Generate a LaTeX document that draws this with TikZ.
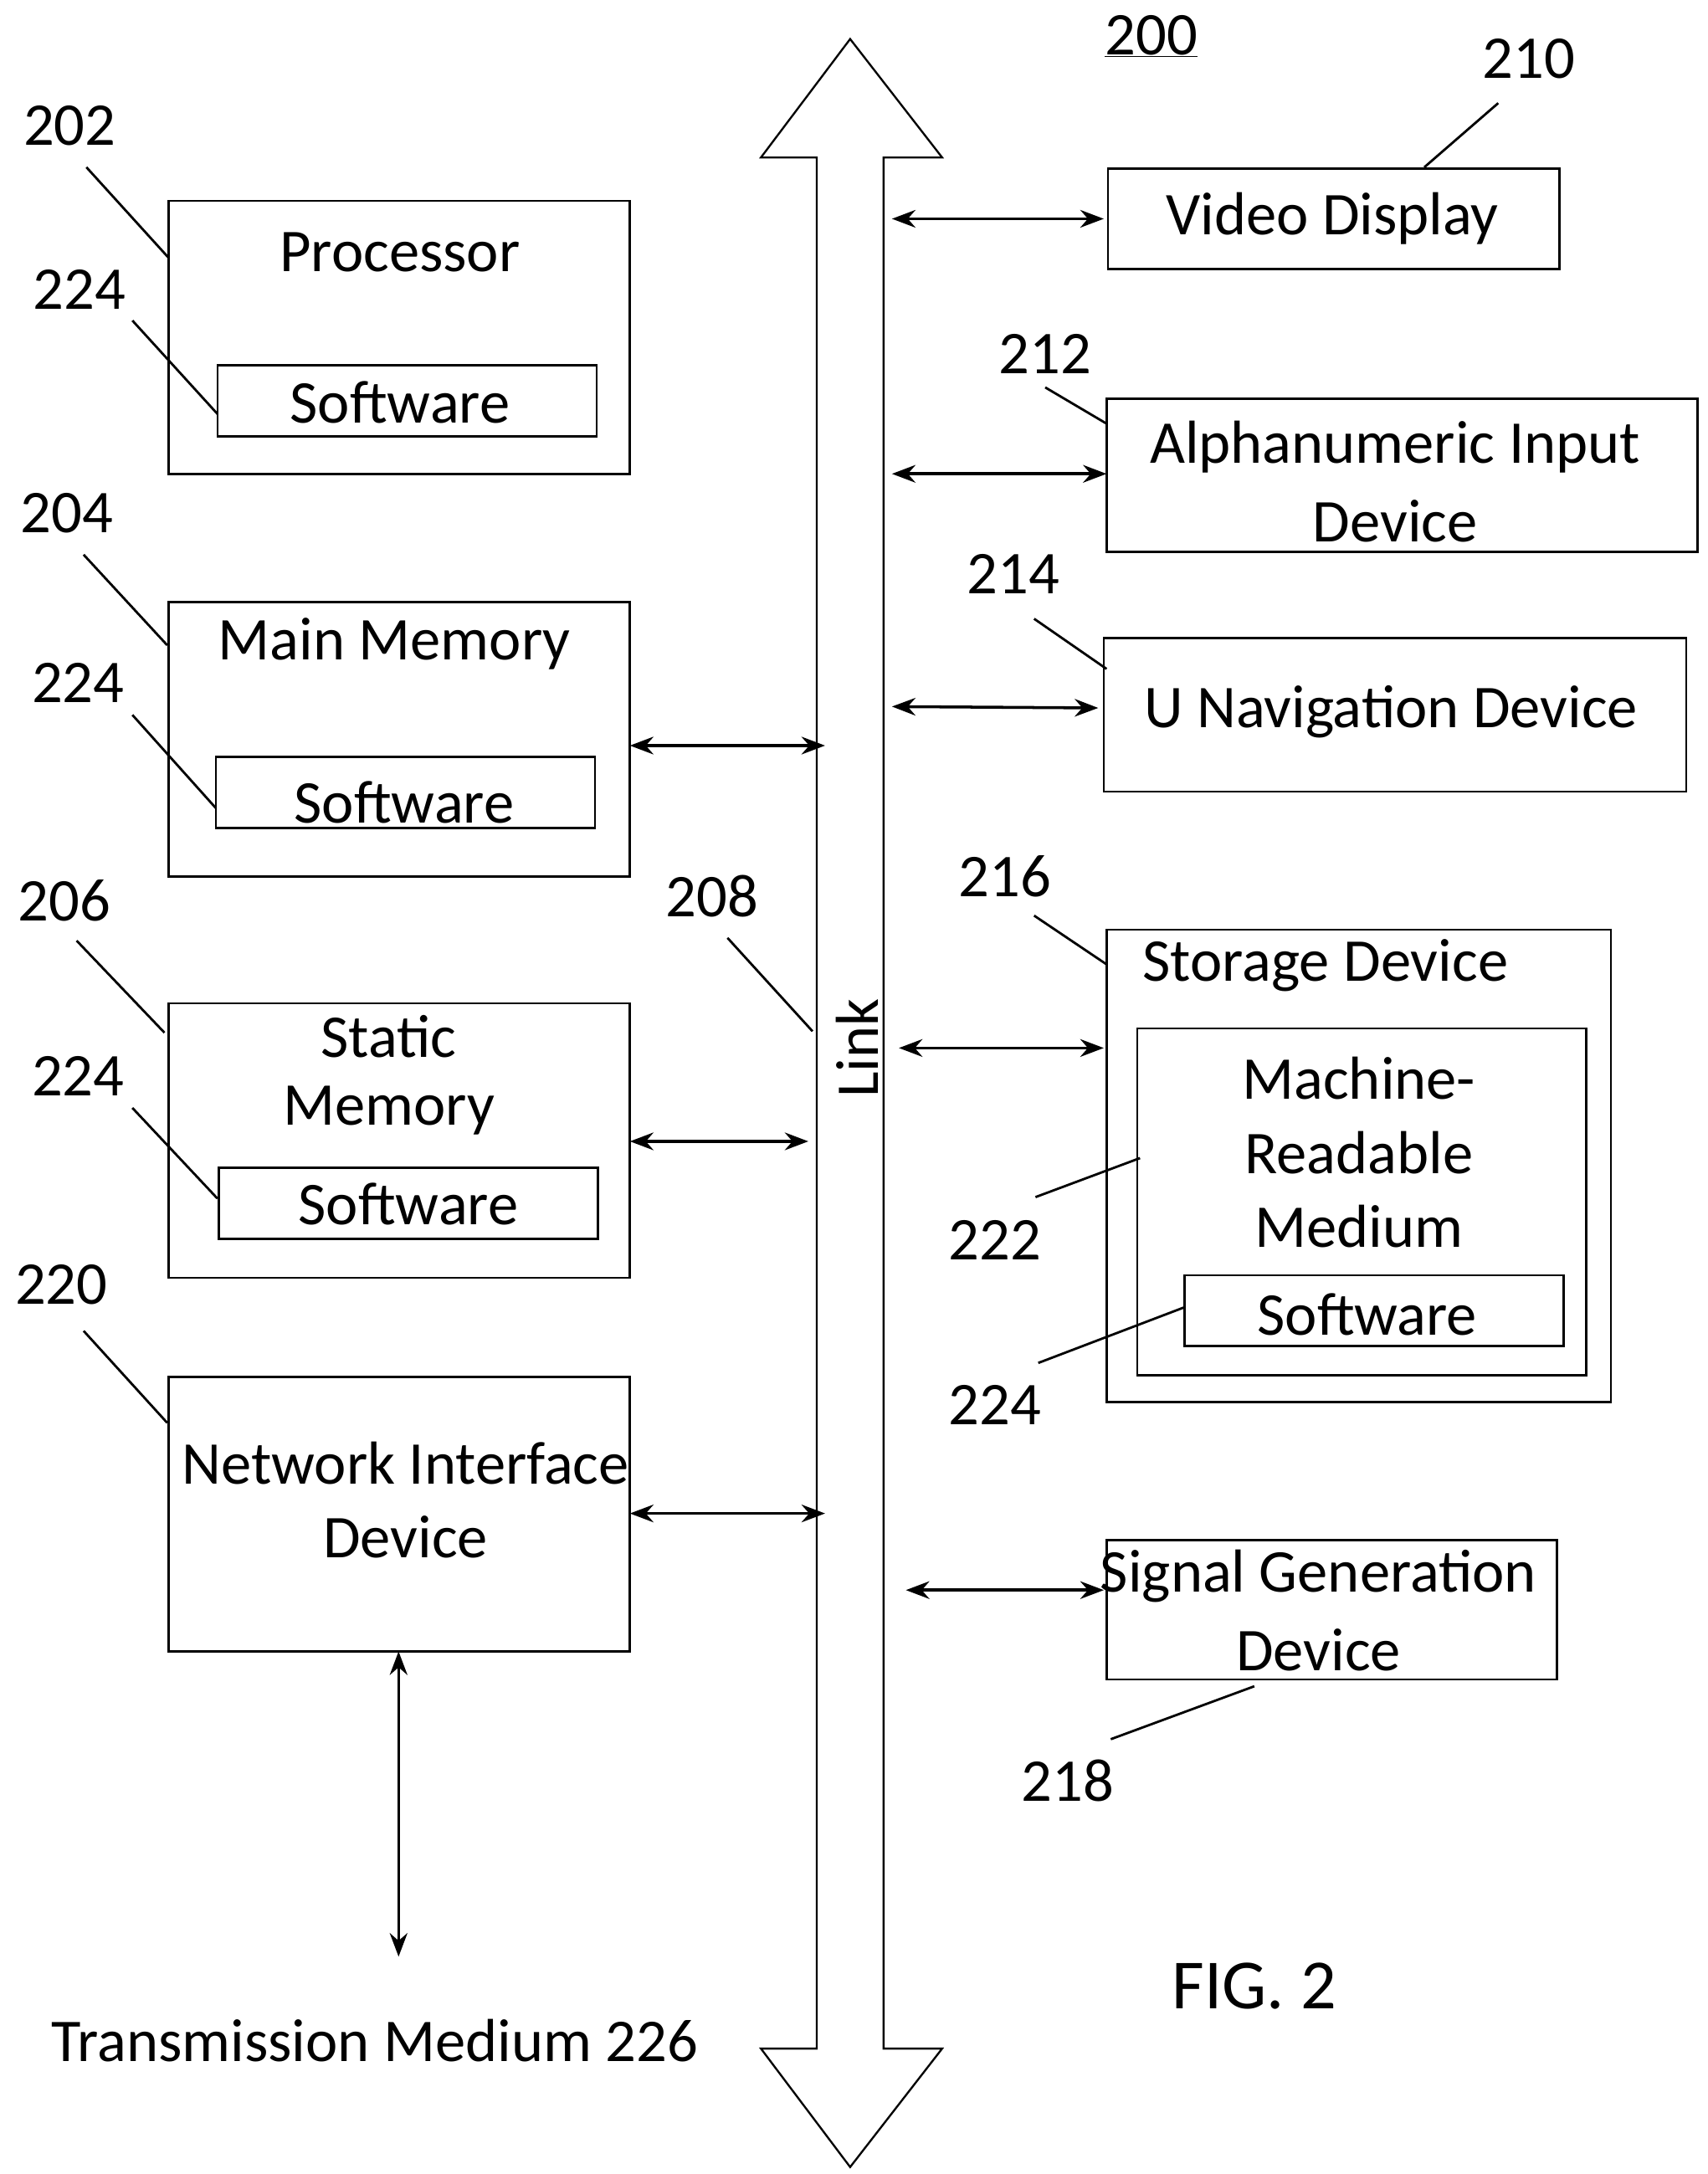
\documentclass[tikz,border=0pt]{standalone}
\usepackage{fontspec}
\setmainfont{Carlito}
\usetikzlibrary{arrows.meta}
\begin{document}
\begin{tikzpicture}[x=0.05cm,y=-0.05cm,
 box/.style={draw,line width=2.2pt},
 txt/.style={font=\fontsize{62}{68}\selectfont,inner sep=0},
 lead/.style={line width=2.4pt},
 arr/.style={line width=3pt,{Stealth[length=24pt,width=18pt]}-{Stealth[length=24pt,width=18pt]}}]
\useasboundingbox (0,0) rectangle (1225,1560);
\fill[white] (0,0) rectangle (1225,1560);
% bus
\draw[line width=2pt] (586,1470) -- (586,113) -- (546,113) -- (610,28) -- (676,113) -- (634,113) -- (634,1470) -- (676,1470) -- (610,1555) -- (546,1470) -- cycle;
\node[txt,rotate=90] (link) at (615,752) {Link};
\node[txt] (n200) at (826,26) {\underline{200}};
% left boxes
\draw[box] (121,144) rectangle (452,340);
\node[txt] (tproc) at (287,181) {Processor};
\draw[box] (156,262) rectangle (428,313); \node[txt] (s1) at (287,289) {Software};
\node[txt] (l202) at (50,90) {202}; \draw[lead] (62,120) -- (121,185);
\node[txt] (l224a) at (57,208) {224}; \draw[lead] (95,230) -- (156,297);

\draw[box] (121,432) rectangle (452,629);
\node[txt] (tmm) at (283,462) {Main Memory};
\draw[box] (155,543) rectangle (427,594); \node[txt] (s2) at (290,576) {Software};
\node[txt] (l204) at (48,368) {204}; \draw[lead] (60,398) -- (120,463);
\node[txt] (l224b) at (56,490) {224}; \draw[lead] (95,513) -- (155,580);

\draw[box] (121,720) rectangle (452,917);
\node[txt] (tsm1) at (279,744) {Static};
\node[txt] (tsm2) at (279,797) {Memory};
\draw[box] (157,838) rectangle (429,889); \node[txt] (s3) at (293,864) {Software};
\node[txt] (l206) at (46,646) {206}; \draw[lead] (55,675) -- (118,741);
\node[txt] (l224c) at (56,772) {224}; \draw[lead] (95,795) -- (156,860);

\draw[box] (121,988) rectangle (452,1185);
\node[txt] (tn1) at (291,1050) {Network Interface};
\node[txt] (tn2) at (291,1103) {Device};
\node[txt] (l220) at (44,922) {220}; \draw[lead] (60,955) -- (120,1021);

\draw[arr] (452,535) -- (592,535);
\draw[arr] (452,819) -- (580,819);
\draw[arr] (452,1086) -- (592,1086);
\draw[arr] (286,1185) -- (286,1404);
\node[txt] (tm) at (269,1464) {Transmission Medium 226};
\node[txt] (l208) at (511,643) {208}; \draw[lead] (522,673) -- (583,740);

% right boxes
\draw[box] (795,121) rectangle (1119,193); \node[txt] (tvd) at (956,157) {Video Display};
\draw[arr] (640,157) -- (792,157);
\node[txt] (l210) at (1097,42) {210}; \draw[lead] (1075,74) -- (1022,120);

\draw[box] (794,286) rectangle (1218,396);
\node[txt] (ta1) at (1001,321) {Alphanumeric Input};
\node[txt] (ta2) at (1001,374) {Device};
\draw[arr] (640,340) -- (794,340);
\node[txt] (l212) at (750,254) {212}; \draw[lead] (750,278) -- (794,304);

\draw[box] (792,458) rectangle (1210,568); \node[txt] (tu) at (998,511) {U Navigation Device};
\draw[arr] (640,507) -- (788,508);
\node[txt] (l214) at (727,412) {214}; \draw[lead] (742,444) -- (794,480);

\draw[box] (794,667) rectangle (1156,1006);
\node[txt] (tsd) at (951,693) {Storage Device};
\draw[box] (816,738) rectangle (1138,987);
\node[txt] (tm1) at (975,774) {Machine-};
\node[txt] (tm2) at (975,827) {Readable};
\node[txt] (tm3) at (975,880) {Medium};
\draw[box] (850,915) rectangle (1122,966); \node[txt] (s4) at (981,943) {Software};
\draw[arr] (645,752) -- (792,752);
\node[txt] (l216) at (721,629) {216}; \draw[lead] (742,657) -- (794,692);
\node[txt] (l222) at (714,890) {222}; \draw[lead] (743,859) -- (818,831);
\node[txt] (l224d) at (714,1008) {224}; \draw[lead] (745,978) -- (850,938);

\draw[box] (794,1105) rectangle (1117,1205);
\node[txt] (ts1) at (946,1131) {Signal Generation};
\node[txt] (ts2) at (946,1184) {Device};
\draw[arr] (650,1141) -- (792,1141);
\node[txt] (l218) at (766,1278) {218}; \draw[lead] (797,1248) -- (900,1210);

\node[txt,font=\fontsize{72}{78}\selectfont] (fig) at (900,1425) {FIG. 2};
\end{tikzpicture}
\end{document}
